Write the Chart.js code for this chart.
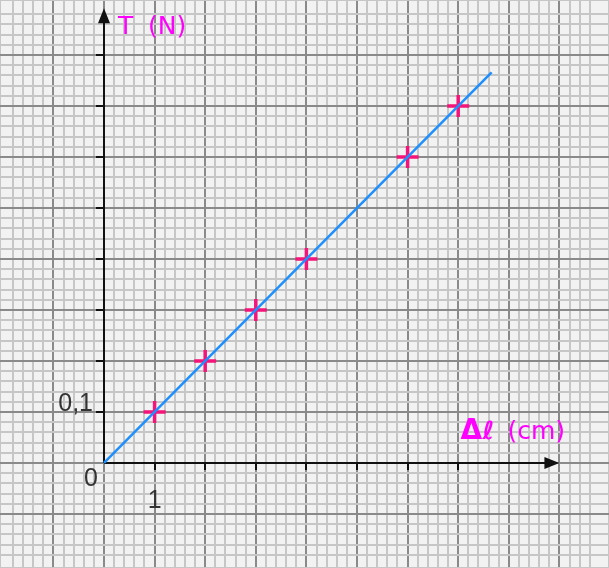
<!DOCTYPE html>
<html>
<head>
<meta charset="utf-8">
<script src="https://cdn.jsdelivr.net/npm/chart.js@4.4.1/dist/chart.umd.min.js"></script>
<style>
  body { margin: 0; background: #f2f2f2; }
  canvas { display: block; }
</style>
</head>
<body>
<canvas id="chart" width="609" height="568"></canvas>
<script>
// Mesures : allongement (cm) et tension (N)
const allongements = [1, 2, 3, 4, 6, 7];
const tensions = [0.1, 0.2, 0.3, 0.4, 0.6, 0.7];
// Droite moyenne passant par l'origine
const droiteX = [0, 7.66];
const droiteY = [0, 0.766];
// Graduations des axes
const xTicks = [1, 2, 3, 4, 5, 6, 7];
const yTicks = [0.1, 0.2, 0.3, 0.4, 0.5, 0.6, 0.7, 0.8];
const xAxisEnd = 9;
const yAxisEnd = 0.892;

const isMajor = (v, unit) => Math.abs(v / unit - Math.round(v / unit)) < 1e-6;

// Fond + axes fléchés, graduations et étiquettes
const papier = {
  id: 'papier',
  beforeDraw(chart) {
    const c = chart.ctx;
    c.save();
    c.fillStyle = '#f2f2f2';
    c.fillRect(0, 0, chart.width, chart.height);
    c.restore();
  },
  beforeDatasetsDraw(chart) {
    const c = chart.ctx;
    const x = chart.scales.x, y = chart.scales.y;
    const x0 = Math.round(x.getPixelForValue(0));
    const y0 = Math.round(y.getPixelForValue(0));
    const xEnd = x.getPixelForValue(xAxisEnd);
    const yEnd = y.getPixelForValue(yAxisEnd);
    c.save();
    c.strokeStyle = '#111';
    c.fillStyle = '#111';
    c.lineWidth = 2;
    c.beginPath();
    c.moveTo(x0, y0); c.lineTo(xEnd - 10, y0);
    c.moveTo(x0, y0); c.lineTo(x0, yEnd + 10);
    c.stroke();
    // flèches
    c.beginPath();
    c.moveTo(xEnd, y0); c.lineTo(xEnd - 15, y0 - 6); c.lineTo(xEnd - 15, y0 + 6); c.closePath();
    c.moveTo(x0, yEnd); c.lineTo(x0 - 6, yEnd + 15); c.lineTo(x0 + 6, yEnd + 15); c.closePath();
    c.fill();
    // graduations
    c.beginPath();
    xTicks.forEach(v => {
      const px = Math.round(x.getPixelForValue(v));
      c.moveTo(px, y0); c.lineTo(px, y0 + 7);
    });
    yTicks.forEach(v => {
      const py = Math.round(y.getPixelForValue(v));
      c.moveTo(x0 - 8, py); c.lineTo(x0, py);
    });
    c.stroke();
    // étiquettes numériques
    c.fillStyle = '#333';
    c.font = '25px "Liberation Sans", Arial, sans-serif';
    c.textBaseline = 'middle';
    c.textAlign = 'right';
    c.fillText('0,1', x0 - 11, y.getPixelForValue(0.1) - 8);
    c.fillText('0', x0 - 6, y0 + 16);
    c.textAlign = 'center';
    c.fillText('1', x.getPixelForValue(1), y0 + 38);
    // titres d'axes
    c.fillStyle = '#ff00ff';
    c.textAlign = 'left';
    c.textBaseline = 'alphabetic';
    c.font = '25px "DejaVu Sans", sans-serif';
    c.fillText('T', x0 + 14, yEnd + 26);
    c.fillText('(N)', x0 + 44, yEnd + 26);
    c.font = 'bold 28px "DejaVu Sans", sans-serif';
    c.fillText('Δ', xEnd - 99, y0 - 24);
    c.font = 'bold 25px "DejaVu Sans", sans-serif';
    c.fillText('ℓ', xEnd - 77, y0 - 24);
    c.font = '25px "DejaVu Sans", sans-serif';
    c.fillText('(cm)', xEnd - 52, y0 - 24);
    c.restore();
  }
};

new Chart(document.getElementById('chart'), {
  type: 'scatter',
  data: {
    datasets: [
      {
        label: 'droite',
        data: droiteX.map((v, i) => ({ x: v, y: droiteY[i] })),
        showLine: true,
        borderColor: '#1e8fff',
        borderWidth: 2.5,
        pointRadius: 0
      },
      {
        label: 'mesures',
        data: allongements.map((v, i) => ({ x: v, y: tensions[i] })),
        pointStyle: 'cross',
        pointRadius: 11,
        borderColor: '#f5147a',
        borderWidth: 3.5,
        backgroundColor: '#f5147a'
      }
    ]
  },
  options: {
    responsive: false,
    animation: false,
    layout: { padding: 0, autoPadding: false },
    plugins: { legend: { display: false }, tooltip: { enabled: false } },
    scales: {
      x: {
        type: 'linear',
        min: -2.055,
        max: 9.98,
        border: { display: false },
        ticks: { display: false, stepSize: 0.2, autoSkip: false, maxTicksLimit: 1000 },
        grid: {
          drawTicks: false,
          color: ctx => isMajor(ctx.tick.value, 1) ? '#8a8a8a' : '#c6c6c6',
          lineWidth: 2
        }
      },
      y: {
        type: 'linear',
        min: -0.206,
        max: 0.908,
        border: { display: false },
        ticks: { display: false, stepSize: 0.02, autoSkip: false, maxTicksLimit: 1000 },
        grid: {
          drawTicks: false,
          color: ctx => isMajor(ctx.tick.value, 0.1) ? '#8a8a8a' : '#c6c6c6',
          lineWidth: 2
        }
      }
    }
  },
  plugins: [papier]
});
</script>
</body>
</html>
